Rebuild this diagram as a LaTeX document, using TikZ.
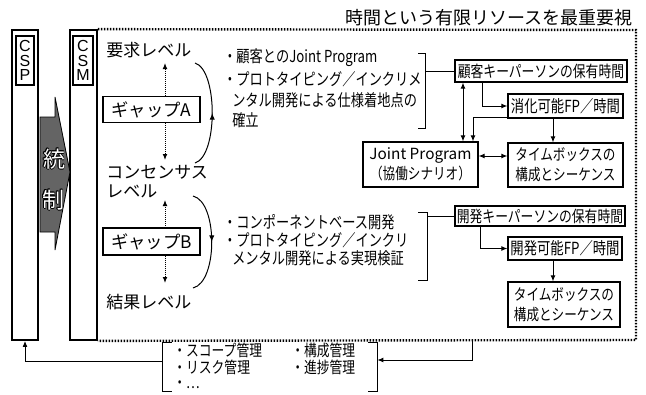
\documentclass[tikz,border=0pt]{standalone}
\usepackage{fontspec}
\setmainfont{Noto Sans CJK JP}
\newfontfamily\condfont[FakeStretch=0.8]{Noto Sans CJK JP}
\newfontfamily\latinsans{Liberation Sans}
\usetikzlibrary{arrows.meta,decorations.markings,calc}
\definecolor{arrgray}{RGB}{100,100,100}
\tikzset{
  col/.style={draw, line width=1.3pt, inner sep=0pt},
  lbl/.style={draw, line width=0.8pt, inner sep=0pt, align=center, font=\latinsans\fontsize{12}{11}\selectfont},
  box/.style={draw, line width=0.8pt, inner sep=0pt, align=center},
  onebox/.style={box, font=\condfont\fontsize{12}{14}\selectfont},
  twobox/.style={box, font=\condfont\fontsize{11.8}{15}\selectfont},
  gapbox/.style={box, font=\fontsize{13}{15}\selectfont},
  lvl/.style={inner sep=0pt, anchor=west, font=\fontsize{12.75}{14.25}\selectfont, align=left},
  bul/.style={inner sep=0pt, anchor=west, font=\condfont\fontsize{12.4}{14}\selectfont},
  mg/.style={inner sep=0pt, anchor=west, font=\condfont\fontsize{12}{13}\selectfont},
  arr/.style={-{Latex[length=4.5pt,width=3.6pt]}, line width=0.75pt},
  arrtwo/.style={{Latex[length=4.5pt,width=3.6pt]}-{Latex[length=4.5pt,width=3.6pt]}, line width=0.75pt},
  darr/.style={-{Latex[length=4.5pt,width=3.6pt]}, line width=0.75pt, dash pattern=on 0.6pt off 0.9pt},
  carr/.style={line width=0.75pt, postaction={decorate}, decoration={markings, mark=at position 0.5 with {\arrow{Latex[length=5pt,width=4pt]}}}},
  framel/.style={line width=1.8pt, dash pattern=on 1.1pt off 1.15pt},
  ln/.style={line width=0.75pt},
  glyph/.style={inner sep=0pt, font=\fontsize{16.5}{16.5}\selectfont},
}
\begin{document}
\begin{tikzpicture}[x=0.75pt,y=-0.75pt]
\useasboundingbox (0,0) rectangle (646,394);
\clip (0,0) rectangle (646,394);

% title
\node[inner sep=0pt, anchor=east, font=\fontsize{13.5}{16}\selectfont] (title) at (633,18) {時間という有限リソースを最重要視};

% columns
\node[col, minimum width=19.5pt, minimum height=232.5pt] (csp) at (25,185) {};
\node[col, minimum width=20.25pt, minimum height=232.5pt] (csm) at (83.5,185) {};
\node[lbl, minimum width=13.5pt, minimum height=36.75pt] (cspl) at (25,60.5) {C\\S\\P};
\node[lbl, minimum width=15pt, minimum height=36.75pt] (csml) at (83,60.5) {C\\S\\M};

% control arrow
\draw[fill=arrgray, line width=0.6pt] (40,117) -- (55,117) -- (55,97) -- (70,172) -- (55,250) -- (55,232) -- (40,232) -- cycle;
\foreach \a in {0,45,...,315}{
  \node[glyph, text=black] (oa\a) at ($(54,159)+(\a:0.9)$) {統};
  \node[glyph, text=black] (ob\a) at ($(53,200)+(\a:0.9)$) {制};
}
\node[glyph, text=white] (tou) at (54,159) {統};
\node[glyph, text=white] (sei) at (53,200) {制};

% dotted frame
\coordinate (frNE) at (636,30);
\coordinate (frSE) at (636,340);
\draw[framel] (csm.north east) -- (frNE) -- (frSE) -- (csm.south east);

% levels
\node[lvl] (req) at (106,50) {要求レベル};
\node[lvl] (cons) at (106,181.5) {コンセンサス\\レベル};
\node[lvl] (res) at (106,302) {結果レベル};

% gaps
\node[gapbox, minimum width=72.75pt, minimum height=19.5pt] (gapA) at (151.5,109.7) {ギャップA};
\node[gapbox, minimum width=72.75pt, minimum height=20.25pt] (gapB) at (151.5,241.5) {ギャップB};

\coordinate (upA) at (165,63);
\coordinate (dnA) at (165,160);
\coordinate (upB) at (165,200);
\coordinate (dnB) at (165,283);
\draw[darr] (gapA.north -| upA) -- (upA);
\draw[darr] (gapA.south -| dnA) -- (dnA);
\draw[darr] (gapB.north -| upB) -- (upB);
\draw[darr] (gapB.south -| dnB) -- (dnB);

\coordinate (a0) at (195,163);
\coordinate (a1) at (195,63);
\draw[carr] (a0) .. controls (218,156) and (218,70) .. (a1);
\coordinate (b0) at (193,196);
\coordinate (b1) at (193,288);
\draw[carr] (b0) .. controls (218,202) and (218,282) .. (b1);

% bullet text A
\node[bul] (ta1) at (223,58) {・顧客とのJoint Program};
\node[bul] (ta2) at (223,79) {・プロトタイピング／インクリメ};
\node[bul] (ta3) at (232,100) {ンタル開発による仕様着地点の};
\node[bul] (ta4) at (232,120) {確立};
\draw[ln] (418,53) -- (425,53) -- (425,128) -- (418,128);
\coordinate (brA) at (425,71);

% bullet text B
\node[bul] (tb1) at (223,222) {・コンポーネントベース開発};
\node[bul] (tb2) at (223,240) {・プロトタイピング／インクリ};
\node[bul] (tb3) at (232,258) {メンタル開発による実現検証};
\draw[ln] (418,212) -- (427,212) -- (427,280) -- (418,280);
\coordinate (brB) at (427,216);

% right boxes
\node[onebox, minimum width=129pt, minimum height=16.5pt] (kA) at (541,71) {顧客キーパーソンの保有時間};
\node[onebox, minimum width=86.25pt, minimum height=18pt, font=\condfont\fontsize{12.5}{14}\selectfont] (sA) at (565.5,106) {消化可能FP／時間};
\node[twobox, minimum width=86.25pt, minimum height=33.75pt] (jp) at (420.5,164.5) {{\normalfont\fontsize{11.5}{15}\selectfont Joint Program}\\（協働シナリオ）};
\node[twobox, minimum width=86.25pt, minimum height=33pt] (tA) at (565.5,165) {タイムボックスの\\構成とシーケンス};
\node[onebox, minimum width=127.5pt, minimum height=15pt] (kB) at (540,216) {開発キーパーソンの保有時間};
\node[onebox, minimum width=85.5pt, minimum height=17.25pt, font=\condfont\fontsize{12.5}{14}\selectfont] (dB) at (565,248.5) {開発可能FP／時間};
\node[twobox, minimum width=84pt, minimum height=33.75pt] (tB) at (564,304.5) {タイムボックスの\\構成とシーケンス};

\draw[ln] (brA) -- (kA.west);
\draw[ln] (brB) -- (kB.west);

\coordinate (xa) at (482,0);
\draw[arr] (kA.south -| xa) |- (sA.west);
\coordinate (ya) at (473,117);
\draw[arr] (sA.west |- ya) -| (jp.north -| ya);
\coordinate (xb) at (463,0);
\draw[arrtwo] (kA.south -| xb) -- (jp.north -| xb);
\coordinate (yb) at (0,156);
\draw[arrtwo] (jp.east |- yb) -- (tA.west |- yb);
\coordinate (xc) at (553,0);
\draw[arr] (sA.south -| xc) -- (tA.north -| xc);
\coordinate (xd) at (480,0);
\draw[arr] (kB.south -| xd) |- (dB.west);
\draw[arr] (dB.south -| xc) -- (tB.north -| xc);

% bottom management box
\node[inner sep=0pt, minimum width=160.5pt, minimum height=36pt] (mgmt) at (270,367) {};
\draw[ln] ($(mgmt.north west)+(9,0)$) -- (mgmt.north west) -- (mgmt.south west) -- ($(mgmt.south west)+(9,0)$);
\draw[ln] ($(mgmt.north east)+(-9,0)$) -- (mgmt.north east) -- (mgmt.south east) -- ($(mgmt.south east)+(-9,0)$);
\node[mg] (m1) at (173,350) {・スコープ管理};
\node[mg] (m2) at (291,350) {・構成管理};
\node[mg] (m3) at (173,367) {・リスク管理};
\node[mg] (m4) at (291,367) {・進捗管理};
\node[mg] (m5) at (173,384.5) {・…};

\coordinate (yl) at (0,361);
\draw[arr] (mgmt.west |- yl) -| (csp.south);
\coordinate (fb) at (472,340);
\coordinate (yr) at (0,360);
\draw[arr] (fb) |- (mgmt.east |- yr);
\end{tikzpicture}
\end{document}
